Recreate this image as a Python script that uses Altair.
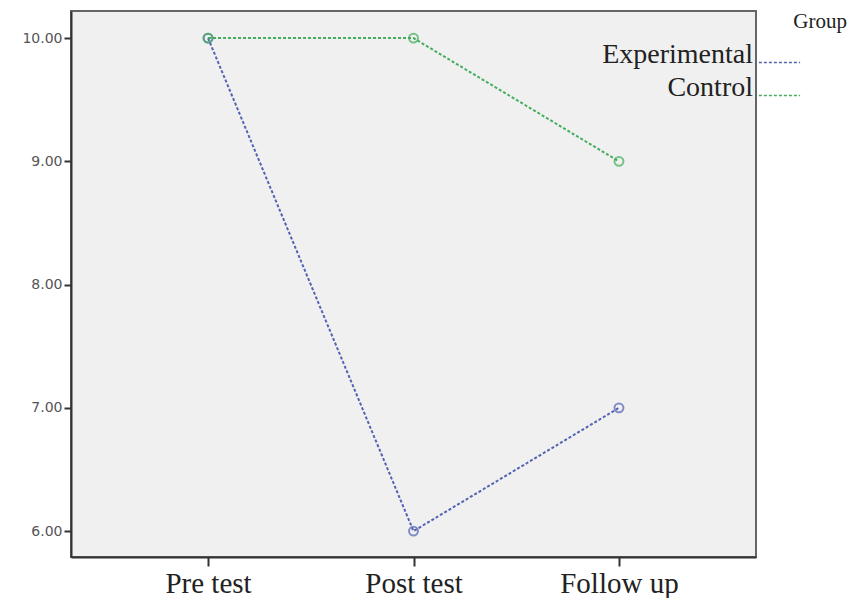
import altair as alt
import pandas as pd

occasions = ["Pre test", "Post test", "Follow up"]
groups = ["Experimental", "Control"]
experimental_values = [10.0, 6.0, 7.0]
control_values = [10.0, 10.0, 9.0]
y_ticks = [6, 7, 8, 9, 10]
group_colors = ["#5363b3", "#44ad5e"]

rows = []
for g, vals in zip(groups, [experimental_values, control_values]):
    for o, v in zip(occasions, vals):
        rows.append({"Occasion": o, "Score": v, "Group": g})
df = pd.DataFrame(rows)

x_enc = alt.X("Occasion:N", sort=occasions,
              scale=alt.Scale(type="point", padding=0.667),
              axis=alt.Axis(title=None, labelAngle=0, labelFont="Liberation Serif",
                            labelFontSize=29, labelColor="#222", tickSize=9,
                            tickColor="#333", tickWidth=2, labelPadding=3,
                            domainColor="#333", domainWidth=2))
y_enc = alt.Y("Score:Q", scale=alt.Scale(domain=[5.79, 10.22], nice=False, zero=False),
              axis=alt.Axis(title=None, values=y_ticks, format=".2f", grid=False,
                            labelFont="DejaVu Sans", labelFontSize=14, labelColor="#555",
                            tickSize=7, tickColor="#333", tickWidth=2, labelPadding=2,
                            domainColor="#333", domainWidth=2))
color_enc = alt.Color("Group:N", sort=groups,
                      scale=alt.Scale(domain=groups, range=group_colors),
                      legend=alt.Legend(title=None, orient="none", legendX=687, legendY=30,
                                        symbolType="stroke", symbolSize=1700,
                                        symbolStrokeWidth=1.5, symbolDash=[3, 2],
                                        labelAlign="right", labelOffset={"expr": "-48"},
                                        labelFont="Liberation Serif", labelFontSize=28,
                                        labelColor="#222", labelBaseline="alphabetic",
                                        rowPadding=4, padding=0, labelLimit=400))

base = alt.Chart(df)
lines = base.mark_line(strokeDash=[3, 2], strokeWidth=2).encode(
    x=x_enc, y=y_enc, color=color_enc, detail="Group:N")
points = base.mark_point(filled=False, size=80, strokeWidth=2).encode(
    x=x_enc, y=y_enc, color=alt.Color("Group:N", sort=groups,
                                      scale=alt.Scale(domain=groups, range=group_colors),
                                      legend=None))

chart = alt.layer(lines, points).properties(
    width=685, height=546,
    background="white",
    autosize=alt.AutoSizeParams(type="none"),
    padding={"left": 63, "top": 3, "right": 95, "bottom": 41},
    title=alt.TitleParams("Group", anchor="end", frame="group", dx=91, dy=21, offset=0,
                          font="Liberation Serif", fontSize=21, fontWeight="normal",
                          color="#222"),
).configure_view(fill="#f0f0f0", stroke="#666", strokeWidth=2)

chart.save("out.html", embed_options={"renderer": "svg", "actions": False})
